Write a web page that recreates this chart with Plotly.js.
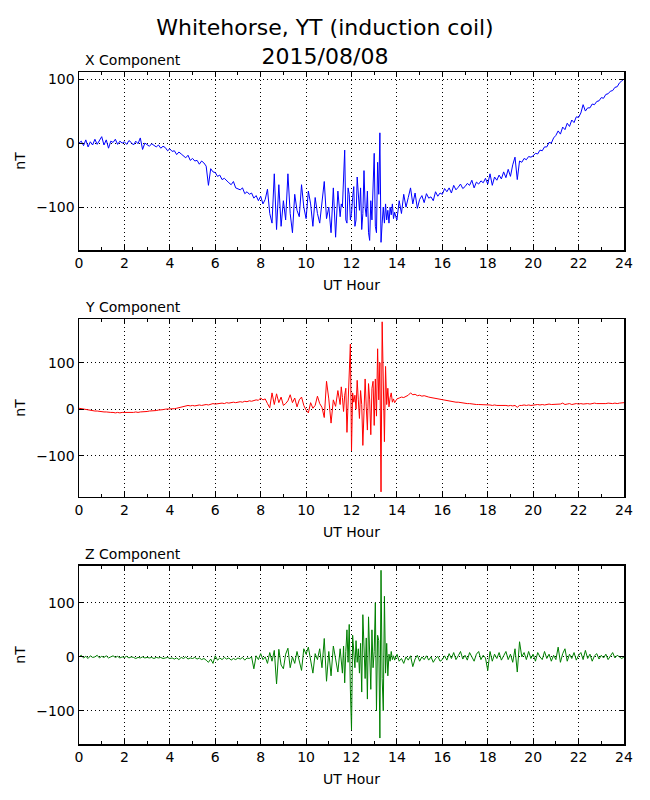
<!DOCTYPE html>
<html>
<head>
<meta charset="utf-8">
<script src="https://cdn.plot.ly/plotly-3.0.1.min.js"></script>
<style>
  html, body { margin: 0; padding: 0; background: #fff; }
  #chart { width: 650px; height: 800px; }
</style>
</head>
<body>
<div id="chart"></div>
<script>
// time axis (UT hour): 0.1 h steps, 0.05 h steps during the 11.5-14 h burst
const hours = [
  0,0.1,0.2,0.3,0.4,0.5,0.6,0.7,0.8,0.9,
  1,1.1,1.2,1.3,1.4,1.5,1.6,1.7,1.8,1.9,
  2,2.1,2.2,2.3,2.4,2.5,2.6,2.7,2.8,2.9,
  3,3.1,3.2,3.3,3.4,3.5,3.6,3.7,3.8,3.9,
  4,4.1,4.2,4.3,4.4,4.5,4.6,4.7,4.8,4.9,
  5,5.1,5.2,5.3,5.4,5.5,5.6,5.7,5.8,5.9,
  6,6.1,6.2,6.3,6.4,6.5,6.6,6.7,6.8,6.9,
  7,7.1,7.2,7.3,7.4,7.5,7.6,7.7,7.8,7.9,
  8,8.1,8.2,8.3,8.4,8.5,8.6,8.7,8.8,8.9,
  9,9.1,9.2,9.3,9.4,9.5,9.6,9.7,9.8,9.9,
  10,10.1,10.2,10.3,10.4,10.5,10.6,10.7,10.8,10.9,
  11,11.1,11.2,11.3,11.4,
  11.5,11.55,11.6,11.65,11.7,11.75,11.8,11.85,11.9,11.95,
  12,12.05,12.1,12.15,12.2,12.25,12.3,12.35,12.4,12.45,
  12.5,12.55,12.6,12.65,12.7,12.75,12.8,12.85,12.9,12.95,
  13,13.05,13.1,13.15,13.2,13.25,13.3,13.35,13.4,13.45,
  13.5,13.55,13.6,13.65,13.7,13.75,13.8,13.85,13.9,13.95,
  14,14.1,14.2,14.3,14.4,14.5,14.6,14.7,14.8,14.9,
  15,15.1,15.2,15.3,15.4,15.5,15.6,15.7,15.8,15.9,
  16,16.1,16.2,16.3,16.4,16.5,16.6,16.7,16.8,16.9,
  17,17.1,17.2,17.3,17.4,17.5,17.6,17.7,17.8,17.9,
  18,18.1,18.2,18.3,18.4,18.5,18.6,18.7,18.8,18.9,
  19,19.1,19.2,19.3,19.4,19.5,19.6,19.7,19.8,19.9,
  20,20.1,20.2,20.3,20.4,20.5,20.6,20.7,20.8,20.9,
  21,21.1,21.2,21.3,21.4,21.5,21.6,21.7,21.8,21.9,
  22,22.1,22.2,22.3,22.4,22.5,22.6,22.7,22.8,22.9,
  23,23.1,23.2,23.3,23.4,23.5,23.6,23.7,23.8,23.9,
  24
];

// X component (nT)
const xComp = [
  0,3,-4,5,-6,2,-3,6,-2,4,
  10,-3,5,-8,3,1,6,-2,3,0,
  2,-2,4,1,-3,3,-1,8,-10,0,
  -2,-5,-1,-4,-6,-3,-8,-5,-7,-12,
  -9,-13,-12,-18,-14,-17,-20,-23,-19,-27,
  -24,-28,-27,-33,-28,-31,-36,-66,-40,-45,
  -46,-52,-50,-57,-55,-59,-62,-65,-60,-70,
  -71,-73,-70,-79,-76,-80,-78,-86,-82,-90,
  -83,-95,-88,-72,-110,-125,-48,-135,-65,-130,
  -90,-120,-48,-110,-140,-80,-105,-115,-65,-100,
  -118,-75,-95,-130,-85,-110,-125,-90,-60,-118,
  -100,-140,-70,-147,-75,
  -115,-95,-100,-60,-11,-120,-125,-70,-80,-120,
  -110,-85,-68,-130,-120,-53,-90,-105,-70,-135,
  -110,-43,-100,-115,-75,-140,-152,-90,-120,-60,
  -16,-130,-140,-30,-80,16,-155,-125,-100,-125,
  -95,-120,-105,-125,-100,-112,-95,-118,-108,-115,
  -120,-90,-110,-80,-100,-85,-70,-95,-78,-102,
  -88,-82,-93,-79,-86,-84,-90,-76,-83,-78,
  -80,-71,-76,-70,-78,-66,-73,-69,-64,-71,
  -68,-63,-66,-58,-70,-61,-64,-59,-62,-55,
  -64,-48,-66,-53,-58,-50,-56,-45,-54,-41,
  -52,-34,-22,-57,-28,-30,-24,-26,-21,-22,
  -20,-16,-17,-11,-12,-6,-6,1,0,8,
  12,19,14,25,21,31,26,36,32,41,
  40,47,60,50,55,55,61,60,65,66,
  71,70,76,77,81,82,87,88,94,97,
  100
];

// Y component (nT)
const yComp = [
  2,1,0,-1,-2,-2,-3,-4,-4,-5,
  -5,-6,-6,-7,-7,-7,-8,-7,-8,-7,
  -7,-7,-8,-7,-7,-6,-7,-6,-6,-5,
  -5,-4,-4,-3,-3,-2,-2,-1,0,0,
  0,1,1,2,3,4,5,6,8,7,
  8,7,8,9,8,9,10,9,11,12,
  11,12,12,13,12,14,13,14,15,14,
  15,16,15,17,16,18,17,19,20,19,
  24,20,22,12,3,35,10,33,14,26,
  8,12,18,31,14,24,5,20,26,8,
  -2,-8,14,2,8,28,12,4,-18,60,
  22,-30,20,6,40,
  10,48,25,-5,30,45,-50,30,60,140,
  -90,35,15,30,0,62,20,-20,40,10,
  -78,25,65,5,-45,55,20,-55,45,60,
  -35,65,-15,130,20,100,-178,188,60,-70,
  92,10,45,5,25,35,15,22,14,20,
  22,24,26,25,28,30,35,31,32,29,
  30,28,29,27,26,25,24,24,22,21,
  20,19,19,18,17,16,15,15,14,13,
  13,12,12,11,11,10,10,10,9,10,
  9,9,8,9,8,8,9,8,8,7,
  8,7,8,4,8,8,9,8,9,8,
  9,9,10,9,10,9,10,11,10,10,
  11,10,11,13,10,11,12,10,11,12,
  11,12,11,12,12,11,12,13,12,12,
  12,11,12,13,12,12,13,12,13,13,
  14
];

// Z component (nT)
const zComp = [
  0,3,-2,1,-3,2,-1,0,3,-2,
  1,-1,2,-2,0,2,-1,1,-2,0,
  -1,1,-2,0,-1,-3,-1,-2,0,-2,
  -1,-2,-1,-3,-1,-2,-1,-3,-2,-1,
  -3,-2,-4,-2,-5,-1,-3,0,-4,-2,
  -3,-1,-4,-2,-5,-3,-6,-10,-4,-12,
  2,-6,-2,-5,-1,-4,-2,-6,-3,-5,
  -2,-4,-1,-6,-2,-3,0,-22,2,-5,
  6,-5,0,-12,8,-8,12,-50,14,-15,
  -22,5,16,-20,0,-12,10,-5,-25,15,
  5,18,-10,-30,6,-5,15,-20,34,-45,
  10,-35,20,-5,-28,
  15,-10,-30,20,-48,10,50,-10,60,-60,
  -135,40,10,-20,30,-10,15,-30,25,-65,
  78,10,-40,35,-78,74,20,-60,50,-20,
  10,100,-100,40,30,-150,160,-40,-100,112,
  -30,25,-35,5,-8,10,-5,2,-6,0,
  5,-8,-3,-12,0,-6,2,-18,-4,3,
  -8,0,-5,2,-6,0,-10,-3,1,-8,
  -5,2,-6,6,-3,8,-5,2,10,-4,
  3,-6,8,0,-8,5,10,-5,3,-2,
  -25,10,-8,5,-3,8,-6,2,10,-5,
  5,-10,15,-28,28,0,8,-5,10,-3,
  5,-8,8,0,-5,10,-3,5,-8,3,
  -5,18,-10,6,15,-8,5,-3,8,-6,
  3,8,-5,12,-3,5,-8,2,6,-4,
  3,-2,5,-5,2,8,-2,3,0,-3,
  0
];

const panelNames = ['X Component', 'Y Component', 'Z Component'];
const panelColors = ['#0000ff', '#ff0000', '#008000'];
const panelRanges = [[-167, 111], [-189, 194], [-161, 168]];

// plot area: 79..624 px wide, 72..744 px high
const domains = [[0.7351, 1], [0.3676, 0.6324], [0, 0.2649]];
const titleY = [1.0179, 0.6503, 0.2827];

const series = [xComp, yComp, zComp];
const data = series.map(function (vals, i) {
  return {
    x: hours,
    y: vals,
    type: 'scatter',
    mode: 'lines',
    line: {color: panelColors[i], width: 1},
    xaxis: i === 0 ? 'x' : 'x' + (i + 1),
    yaxis: i === 0 ? 'y' : 'y' + (i + 1),
    hoverinfo: 'skip',
    showlegend: false
  };
});

const tickFont = {family: 'DejaVu Sans', size: 14, color: 'black'};

function xAxis(i) {
  return {
    domain: [0, 1],
    anchor: i === 0 ? 'y' : 'y' + (i + 1),
    range: [0, 24],
    tick0: 0,
    dtick: 2,
    ticks: 'inside',
    ticklen: 5,
    tickcolor: 'black',
    minor: {dtick: 1, ticks: 'inside', ticklen: 3, tickcolor: 'black', showgrid: false},
    showline: true,
    linecolor: 'black',
    linewidth: 1.5,
    mirror: 'allticks',
    showgrid: true,
    gridcolor: 'black',
    griddash: '1px,3px',
    gridwidth: 1,
    zeroline: false,
    tickfont: tickFont,
    title: {text: 'UT Hour', font: tickFont, standoff: 10}
  };
}

function yAxis(i) {
  return {
    domain: domains[i],
    anchor: i === 0 ? 'x' : 'x' + (i + 1),
    range: panelRanges[i],
    tick0: 0,
    dtick: 100,
    ticks: 'inside',
    ticklen: 5,
    tickcolor: 'black',
    showline: true,
    linecolor: 'black',
    linewidth: 1.5,
    mirror: 'allticks',
    showgrid: true,
    gridcolor: 'black',
    griddash: '1px,3px',
    gridwidth: 1,
    zeroline: false,
    tickfont: tickFont,
    title: {text: 'nT', font: tickFont, standoff: 7}
  };
}

const layout = {
  width: 650,
  height: 800,
  margin: {l: 79, r: 26, t: 72, b: 56},
  paper_bgcolor: 'white',
  plot_bgcolor: 'white',
  font: {family: 'DejaVu Sans', color: 'black'},
  title: {
    text: 'Whitehorse, YT (induction coil)<br>2015/08/08',
    font: {family: 'DejaVu Sans', size: 22, color: 'black'},
    x: 0.5,
    xanchor: 'center',
    y: 0.9563,
    yanchor: 'middle'
  },
  annotations: panelNames.map(function (name, i) {
    return {
      text: name,
      xref: 'paper',
      yref: 'paper',
      x: 0.0073,
      y: titleY[i],
      xanchor: 'left',
      yanchor: 'middle',
      showarrow: false,
      font: {family: 'DejaVu Sans', size: 14, color: 'black'}
    };
  })
};

for (let i = 0; i < 3; i++) {
  const s = i === 0 ? '' : String(i + 1);
  layout['xaxis' + s] = xAxis(i);
  layout['yaxis' + s] = yAxis(i);
}

Plotly.newPlot('chart', data, layout, {displayModeBar: false, staticPlot: true});
</script>
</body>
</html>
